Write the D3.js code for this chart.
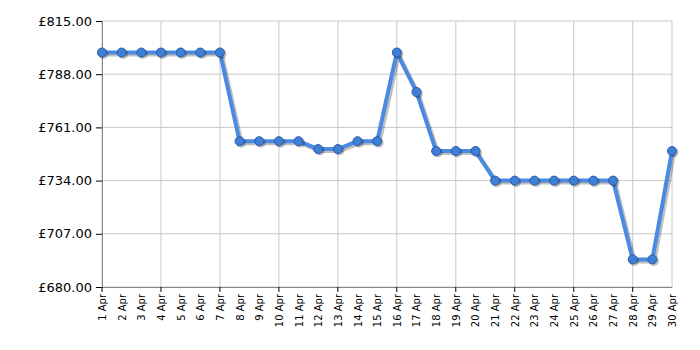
<!DOCTYPE html>
<html>
<head>
<meta charset="utf-8">
<script src="https://cdn.jsdelivr.net/npm/d3@7"></script>
<style>
  body { margin: 0; background: #fff; }
  text { font-family: "DejaVu Sans", Verdana, sans-serif; }
</style>
</head>
<body>
<div id="chart-area"></div>
<script>
// Data //
const days = d3.range(1, 31).map(d => d + " Apr");
const prices = [799, 799, 799, 799, 799, 799, 799,
                754, 754, 754, 754, 750, 750, 754, 754,
                799, 779, 749, 749, 749,
                734, 734, 734, 734, 734, 734, 734,
                694, 694, 749];
const yTicks = [680, 707, 734, 761, 788, 815];
const gridDays = ["1 Apr", "4 Apr", "7 Apr", "10 Apr", "13 Apr", "16 Apr", "19 Apr", "22 Apr", "25 Apr", "28 Apr"];

// Canvas //
const margins = {left: 102, right: 28, top: 21, bottom: 63};
const width = 700 - margins.left - margins.right;
const height = 350 - margins.top - margins.bottom;

const svg = d3.select("#chart-area").append("svg")
  .attr("width", 700)
  .attr("height", 350);

const g = svg.append("g")
  .attr("transform", "translate(" + margins.left + "," + margins.top + ")");

const x = d3.scalePoint().domain(days).range([0, width]);
const y = d3.scaleLinear().domain([680, 815]).range([height, 0]);

// Grid
g.selectAll(".hgrid").data(yTicks).enter().append("line")
  .attr("x1", 0).attr("x2", width)
  .attr("y1", d => y(d)).attr("y2", d => y(d))
  .attr("stroke", "#c8c8c8");
g.selectAll(".vgrid").data(gridDays.concat(["30 Apr"])).enter().append("line")
  .attr("x1", d => x(d)).attr("x2", d => x(d))
  .attr("y1", 0).attr("y2", height)
  .attr("stroke", "#c8c8c8");

// Axes
const yAxis = d3.axisLeft(y).tickValues(yTicks).tickSize(6).tickPadding(4)
  .tickFormat(d => "£" + d3.format(".2f")(d));
const yG = g.append("g").call(yAxis);
yG.select(".domain").attr("stroke", "#888");
yG.selectAll(".tick line").attr("stroke", "#000");
yG.selectAll("text").attr("font-size", "13px").attr("fill", "#000")
  .style("font-family", "'DejaVu Sans', Verdana, sans-serif");

const xAxis = d3.axisBottom(x).tickSize(0).tickPadding(0);
const xG = g.append("g").attr("transform", "translate(0," + height + ")").call(xAxis);
xG.select(".domain").attr("stroke", "#888");
xG.selectAll("text")
  .attr("font-size", "10px").attr("fill", "#000")
  .style("font-family", "'DejaVu Sans', Verdana, sans-serif")
  .attr("text-anchor", "end")
  .attr("transform", "rotate(-90)")
  .attr("x", -7).attr("y", 0).attr("dy", "0.35em");
g.selectAll(".xtick").data(gridDays).enter().append("line")
  .attr("x1", d => x(d)).attr("x2", d => x(d))
  .attr("y1", height).attr("y2", height + 5)
  .attr("stroke", "#000");

// Series
const pts = days.map((d, i) => ({day: d, price: prices[i]}));
const line = d3.line().x(d => x(d.day)).y(d => y(d.price));

g.append("path").datum(pts)
  .attr("d", line)
  .attr("transform", "translate(2,2)")
  .attr("fill", "none")
  .attr("stroke", "#000").attr("stroke-opacity", 0.25)
  .attr("stroke-width", 4).attr("stroke-linejoin", "round");
g.append("path").datum(pts)
  .attr("d", line)
  .attr("fill", "none")
  .attr("stroke", "#4a8ae0")
  .attr("stroke-width", 4).attr("stroke-linejoin", "round");

g.selectAll(".shadow").data(pts).enter().append("circle")
  .attr("cx", d => x(d.day) + 1.5).attr("cy", d => y(d.price) + 1.5)
  .attr("r", 5).attr("fill", "#000").attr("fill-opacity", 0.25);
g.selectAll(".dot").data(pts).enter().append("circle")
  .attr("cx", d => x(d.day)).attr("cy", d => y(d.price))
  .attr("r", 4.5)
  .attr("fill", "#3f7fd6")
  .attr("stroke", "#2a5ca8").attr("stroke-width", 1);
</script>
</body>
</html>
